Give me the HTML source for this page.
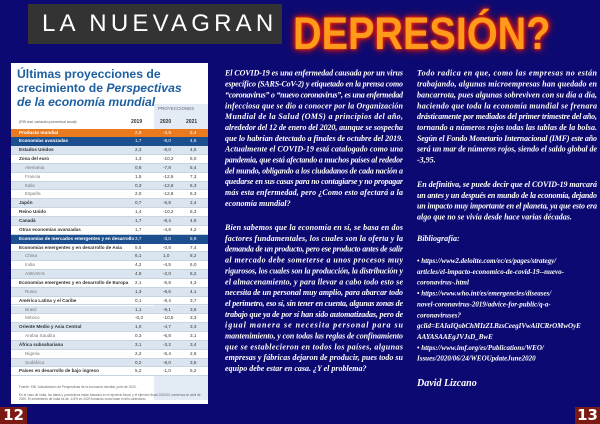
<!DOCTYPE html>
<html><head><meta charset="utf-8">
<style>
*{margin:0;padding:0;box-sizing:border-box}
body{width:600px;height:424px;overflow:hidden;background:#0c0a72;position:relative;font-family:"Liberation Sans",sans-serif}
#title-box{position:absolute;left:28px;top:4px;width:254px;height:40px;background:#333;color:#fff;font-size:24px;letter-spacing:4.2px;line-height:40px;padding-left:14px;white-space:nowrap;overflow:hidden;font-family:"Liberation Sans",sans-serif}
#dep{position:absolute;left:293px;top:8px;font-size:45px;line-height:52px;font-weight:bold;color:#ff9a1a;font-family:"Liberation Sans",sans-serif;white-space:nowrap;transform:scaleX(0.88);transform-origin:0 0;text-shadow:0 0 3px #ff3000,0 0 6px #ff2000,0 0 10px #c01000}
#panel{position:absolute;left:11px;top:63px;width:197px;height:341px;background:#fff;overflow:hidden}
.h1{position:absolute;left:6px;color:#1d5fa0;font-size:12.2px;font-weight:bold;line-height:14px;white-space:nowrap}
.row{position:absolute;left:0;width:197px;height:8.85px;font-size:4.6px;line-height:8.85px;color:#333;white-space:nowrap}
.row span{position:absolute}
.pg{position:absolute;top:407px;height:17px;background:#7a1a12;color:#fff;font-weight:bold;font-size:15px;line-height:17px;text-align:center;font-family:"DejaVu Sans",sans-serif}
svg{position:absolute;left:0;top:0}
svg text{font-family:"Liberation Serif",serif;font-style:italic;font-weight:bold;font-size:8px;fill:#fff}
</style></head><body>
<div id="title-box">LA NUEVAGRAN</div>
<div id="dep">DEPRESIÓN?</div>
<div id="panel">
<div class="h1" style="top:4px">Últimas proyecciones de</div>
<div class="h1" style="top:18px">crecimiento de <i>Perspectivas</i></div>
<div class="h1" style="top:32px"><i>de la economía mundial</i></div>
<div style="position:absolute;left:143px;top:41px;width:54px;height:296px;background:#e3ebf4"></div>
<div style="position:absolute;left:147px;top:43px;font-size:4.5px;color:#667">PROYECCIONES</div>
<div style="position:absolute;left:8px;top:57px;font-size:3.5px;color:#555">(PIB real, variación porcentual anual)</div>
<div style="position:absolute;left:120px;top:56px;font-size:5px;font-weight:bold;color:#333">2019</div>
<div style="position:absolute;left:149px;top:56px;font-size:5px;font-weight:bold;color:#333">2020</div>
<div style="position:absolute;left:175px;top:56px;font-size:5px;font-weight:bold;color:#333">2021</div>
<div id="rows"></div>
<div style="position:absolute;left:8px;top:322px;font-size:3.2px;color:#666">Fuente: FMI, Actualización de Perspectivas de la economía mundial, junio de 2020.</div>
<div style="position:absolute;left:8px;top:330px;font-size:3.2px;color:#666;width:186px;line-height:4px">En el caso de India, los datos y pronósticos están basados en el ejercicio fiscal, y el ejercicio fiscal 2020/21 comienza en abril de 2020. El crecimiento de India es de -4,5% en 2020 tomando como base el año calendario.</div>
</div>
<div class="pg" style="left:0;width:27px">12</div>
<div class="pg" style="left:575px;width:25px">13</div>
<svg id="txt" width="600" height="424"></svg>
<script>
const labels=["Producto mundial","Economías avanzadas","Estados Unidos","Zona del euro","Alemania","Francia","Italia","España","Japón","Reino Unido","Canadá","Otras economías avanzadas","Economías de mercados emergentes y en desarrollo","Economías emergentes y en desarrollo de Asia","China","India","ASEAN-5","Economías emergentes y en desarrollo de Europa","Rusia","América Latina y el Caribe","Brasil","México","Oriente Medio y Asia Central","Arabia Saudita","África subsahariana","Nigeria","Sudáfrica","Países en desarrollo de bajo ingreso"];
const v2019=["2,9","1,7","2,3","1,3","0,6","1,5","0,3","2,0","0,7","1,4","1,7","1,7","3,7","5,5","6,1","4,2","4,9","2,1","1,3","0,1","1,1","-0,3","1,0","0,3","3,1","2,2","0,2","5,2"];
const v2020=["-4,9","-8,0","-8,0","-10,2","-7,8","-12,5","-12,8","-12,8","-5,8","-10,2","-8,4","-4,8","-3,0","-0,8","1,0","-4,5","-2,0","-5,8","-6,6","-9,4","-9,1","-10,5","-4,7","-6,8","-3,2","-5,4","-8,0","-1,0"];
const v2021=["5,4","4,8","4,5","6,0","5,4","7,3","6,3","6,3","2,4","6,3","4,9","4,2","5,9","7,4","8,2","6,0","6,2","4,3","4,1","3,7","3,6","3,3","3,3","3,1","3,4","2,6","3,5","5,2"];
const sub=[4,5,6,7,14,15,16,18,20,21,23,25,26];
const rows=document.getElementById('rows');
labels.forEach((l,i)=>{
 const r=document.createElement('div');r.className='row';
 
 
 r.style.top=(65.5+i*8.85)+'px';
 let bg=i%2?'#fff':'#dbe5f0',col='#333';
 if(i==0){bg='#ea7a1e';col='#fff'}else if(i==1||i==12){bg='#1b4f8e';col='#fff'}
 r.style.background=bg;r.style.color=col;
 if(i>1&&i!=12) r.style.borderBottom='0.5px solid #c8d4e2';
 const isSub=sub.includes(i);
 r.innerHTML='<span style="left:'+(isSub?14:8)+'px;'+(isSub?'color:#777':'font-weight:bold')+'">'+l+'</span><span style="left:124px">'+v2019[i]+'</span><span style="left:152px">'+v2020[i]+'</span><span style="left:179px">'+v2021[i]+'</span>';
 rows.appendChild(r);
});
const c1a=["El COVID-19 es una enfermedad causada por un virus","específico (SARS-CoV-2) y etiquetado en la prensa como","“coronavirus” o “nuevo coronavirus”, es una enfermedad","infecciosa que se dio a conocer por la Organización","Mundial de la Salud (OMS) a principios del año,","alrededor del 12 de enero del 2020, aunque se sospecha","que lo habrían detectado a finales de octubre del 2019.","Actualmente el COVID-19 está catalogado como una","pandemia, que está afectando a muchos países al rededor","del mundo, obligando a los ciudadanos de cada nación a","quedarse en sus casas para no contagiarse y no propagar","más esta enfermedad, pero ¿Como esto afectará a la","economía mundial?"];
const c1b=["Bien sabemos que la economía en sí, se basa en dos","factores fundamentales, los cuales son la oferta y la","demanda de un producto, pero ese producto antes de salir","al mercado debe someterse a unos procesos muy","rigurosos, los cuales son la producción, la distribución y","el almacenamiento, y para llevar a cabo todo esto se","necesita de un personal muy amplio, para abarcar todo","el perímetro, eso sí, sin tener en cuenta, algunas zonas de","trabajo que ya de por sí han sido automatizadas, pero de","igual manera se necesita personal para su","mantenimiento, y con todas las reglas de confinamiento","que se establecieron en todos los países, algunas","empresas y fábricas dejaron de producir, pues todo su","equipo debe estar en casa. ¿Y el problema?"];
const c2a=["Todo radica en que, como las empresas no están","trabajando, algunas microempresas han quedado en","bancarrota, pues algunas sobreviven con su día a día,","haciendo que toda la economía mundial se frenara","drásticamente por mediados del primer trimestre del año,","tornando a números rojos todas las tablas de la bolsa.","Según el Fondo Monetario Internacional (IMF) este año","será un mar de números rojos, siendo el saldo global de","-3,95."];
const c2b=["En definitiva, se puede decir que el COVID-19 marcará","un antes y un después en mundo de la economía, dejando","un impacto muy importante en el planeta, ya que esto era","algo que no se vivía desde hace varias décadas."];
const c2c=["• https://www2.deloitte.com/ec/es/pages/strategy/","articles/el-impacto-economico-de-covid-19--nuevo-","coronavirus-.html","• https://www.who.int/es/emergencies/diseases/","novel-coronavirus-2019/advice-for-public/q-a-","coronaviruses?","gclid=EAIaIQobChMIzZLBzsCeegIVwAiICRrOMwOyE","AAYASAAEgJVJsD_BwE","• https://www.imf.org/es/Publications/WEO/","Issues/2020/06/24/WEOUpdateJune2020"];
const svg=document.getElementById('txt');
function block(lines,x,y0,w,fs,name){
 lines.forEach((s,i)=>{
  const t=document.createElementNS('http://www.w3.org/2000/svg','text');
  
  
  t.setAttribute('x',x);t.setAttribute('y',y0+i*10.85+3);
  if(fs) t.setAttribute('style','font-size:'+fs+'px');
  const last=i==lines.length-1;
  if(w&&!last){t.setAttribute('textLength',w);t.setAttribute('lengthAdjust','spacing');}
  t.textContent=s;svg.appendChild(t);
 });
}
block(c1a,225,72.7,178,0,'article-paragraph');
block(c1b,225,227,178,0,'article-paragraph');
block(c2a,417,72.7,180,0,'article-paragraph');
block(c2b,417,184,180,0,'article-paragraph');
block(["Bibliografía:"],417,238,0,0,'bibliography-heading');
block(c2c,417,260,0,7,'bibliography-link');
const a=document.createElementNS('http://www.w3.org/2000/svg','text');


a.setAttribute('x',417);a.setAttribute('y',386);a.setAttribute('style','font-size:10px');
a.textContent='David Lizcano';svg.appendChild(a);
</script>
</body></html>
